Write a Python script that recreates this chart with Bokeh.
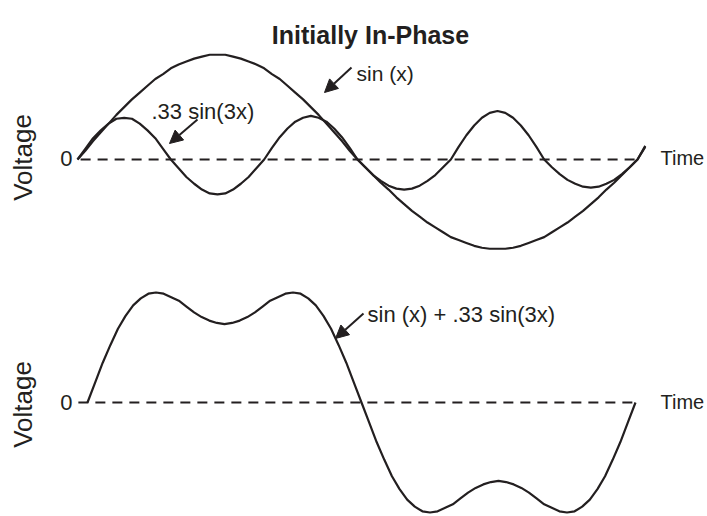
from bokeh.plotting import figure
from bokeh.models import Range1d, Arrow, NormalHead
from bokeh.layouts import column
from bokeh.core.properties import value
from bokeh.embed import file_html
from bokeh.resources import INLINE

# ---- data (phase in degrees, voltage in relative units) ----
phase = list(range(0, 370, 5))

sin_x = [0, .09, .19, .28, .37, .46, .54, .62, .69, .76, .83, .88, .94, .98, 1.01, 1.04, 1.06, 1.08, 1.08,
         1.08, 1.06, 1.04, 1.01, .98, .94, .88, .83, .76, .69, .62, .54, .46, .37, .28, .19, .09, 0,
         -.08, -.16, -.24, -.31, -.39, -.46, -.53, -.59, -.65, -.70, -.75, -.80, -.83, -.86, -.89, -.91, -.92, -.92,
         -.92, -.91, -.89, -.86, -.83, -.80, -.75, -.70, -.65, -.59, -.53, -.46, -.39, -.31, -.24, -.16, -.08, 0,
         .14]

harm_3x = [0, .11, .22, .30, .37, .42, .43, .42, .37, .30, .22, .11,
           0, -.09, -.18, -.25, -.31, -.35, -.36, -.35, -.31, -.25, -.18, -.09,
           0, .12, .23, .32, .39, .43, .45, .43, .39, .32, .23, .12,
           0, -.08, -.16, -.22, -.27, -.30, -.31, -.30, -.27, -.22, -.16, -.08,
           0, .13, .25, .35, .43, .48, .50, .48, .43, .35, .25, .13,
           0, -.08, -.15, -.21, -.25, -.28, -.29, -.28, -.25, -.21, -.15, -.08, 0,
           .13]

total = [0, .17, .34, .49, .63, .74, .83, .89, .93, .94, .93, .90, .87, .82, .77, .73, .70, .68, .67,
         .68, .70, .73, .77, .82, .87, .90, .93, .94, .93, .89, .83, .74, .63, .49, .34, .17, 0,
         -.17, -.34, -.49, -.63, -.74, -.83, -.89, -.93, -.94, -.93, -.90, -.87, -.82, -.77, -.73, -.70, -.68, -.67,
         -.68, -.70, -.73, -.77, -.82, -.87, -.90, -.93, -.94, -.93, -.89, -.83, -.74, -.63, -.49, -.34, -.17, 0]
phase_total = phase[:len(total)]

title_text = "Initially In-Phase"
label_sin = "sin (x)"
label_harm = ".33 sin(3x)"
label_sum = "sin (x) + .33 sin(3x)"
y_label = "Voltage"
x_label = "Time"
zero_label = "0"

# ---- styling / layout ----
INK = "#231f20"
FONT = value("Liberation Sans")
W, H_TOP, H_BOT = 707, 258, 258

# top panel mapping (page pixels -> data)
T_DX = 360 / 560.0
T_X0 = -77 * T_DX
T_ZERO, T_UNIT = 159, 97.0
def tx(X): return T_X0 + X * T_DX
def ty(Y): return (T_ZERO - Y) / T_UNIT

# bottom panel mapping
B_TOP = 258
B_DX = 360 / 548.0
B_X0 = -87 * B_DX
B_ZERO, B_UNIT = 402, 117.0
def bx(X): return B_X0 + X * B_DX
def by(Y): return (B_ZERO - Y) / B_UNIT


def make_fig(h, x0, dx, zero_frame, unit):
    p = figure(width=W, height=h,
               x_range=Range1d(x0, x0 + W * dx),
               y_range=Range1d(-(h - zero_frame) / unit, zero_frame / unit),
               x_axis_type=None, y_axis_type=None,
               output_backend="svg", toolbar_location=None, min_border=0)
    p.grid.visible = False
    p.outline_line_color = None
    p.background_fill_color = "white"
    p.border_fill_color = "white"
    return p


def add_text(p, x, y, txt, size, align="left", baseline="alphabetic", angle=0.0, bold=False):
    p.text(x=[x], y=[y], text=[txt], text_font=FONT, text_font_size=size,
           text_align=align, text_baseline=baseline, angle=angle,
           text_color=INK, text_font_style="bold" if bold else "normal")


def add_arrow(p, xs, ys, xe, ye):
    p.add_layout(Arrow(end=NormalHead(size=13, fill_color=INK, line_color=INK, line_width=1),
                       x_start=xs, y_start=ys, x_end=xe, y_end=ye,
                       line_color=INK, line_width=2))


# ---- top panel ----
top = make_fig(H_TOP, T_X0, T_DX, T_ZERO, T_UNIT)
top.line([phase[0] + 2, phase[-2] + 2], [0, 0], line_color=INK, line_width=2, line_dash="10 7")
top.line(phase, sin_x, line_color=INK, line_width=2.2)
top.line(phase, harm_3x, line_color=INK, line_width=2.2)
add_text(top, tx(370), ty(34), title_text, "25px", align="center", bold=True)
add_text(top, tx(356), ty(73), label_sin, "21px")
add_text(top, tx(151), ty(111), label_harm, "22px")
add_text(top, tx(72), ty(158), zero_label, "22px", align="right", baseline="middle")
add_text(top, tx(660), ty(157), x_label, "20px", baseline="middle")
add_text(top, tx(22), ty(157), y_label, "26px", align="center", baseline="middle", angle=1.5708)
add_arrow(top, tx(351), ty(67), tx(324), ty(92))
add_arrow(top, tx(197), ty(119), tx(169), ty(143))

# ---- bottom panel ----
bot = make_fig(H_BOT, B_X0, B_DX, B_ZERO - B_TOP, B_UNIT)
bot.line([phase_total[0] - 6, phase_total[-1] + 2], [0, 0], line_color=INK, line_width=2, line_dash="10 7")
bot.line(phase_total, total, line_color=INK, line_width=2.2)
add_text(bot, bx(367), by(314), label_sum, "22px")
add_text(bot, bx(72), by(402), zero_label, "22px", align="right", baseline="middle")
add_text(bot, bx(660), by(401), x_label, "20px", baseline="middle")
add_text(bot, bx(22), by(404), y_label, "26px", align="center", baseline="middle", angle=1.5708)
add_arrow(bot, bx(363), by(313), bx(335), by(338))

layout = column(top, bot, spacing=0)
open("out.html", "w").write(file_html(layout, INLINE))
